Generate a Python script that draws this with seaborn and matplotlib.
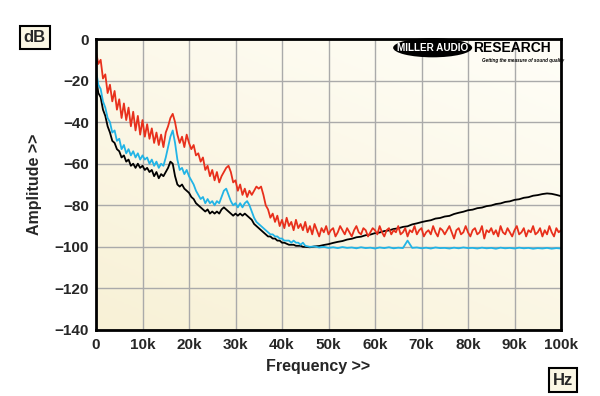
import numpy as np
import pandas as pd
import seaborn as sns
import matplotlib.pyplot as plt
from matplotlib.patches import Ellipse
from matplotlib.colors import LinearSegmentedColormap

# frequency axes in kHz
freq_red = np.arange(0, 100.5, 0.5)
freq = np.concatenate([np.arange(0, 45, 0.5), np.arange(45, 101, 1.0)])

# amplitude readings (dB) for each trace
red_db = [
    -6, -12, -10, -19, -17, -26, -22, -30, -25, -34,
    -29, -38, -31, -39, -33, -42, -35, -44, -37, -46,
    -39, -47, -41, -48, -43, -50, -45, -51, -46, -52,
    -45, -42, -38, -36, -40, -46, -50, -47, -52, -46,
    -50, -53, -51, -56, -55, -59, -57, -63, -61, -66,
    -63, -68, -64, -69, -66, -64, -62, -61, -64, -69,
    -68, -73, -70, -75, -72, -76, -73, -75, -73, -71,
    -72, -71, -75, -80, -82, -86, -84, -88, -85, -90,
    -87, -91, -86, -90, -88, -92, -87, -91, -89, -92,
    # 45k..100k
    -88, -93, -90, -94, -89, -92, -95, -91, -93, -90,
    -94, -92, -91, -95, -93, -90, -92, -94, -91, -93,
    -95, -92, -90, -93, -94, -91, -92, -95, -93, -91,
    -92, -94, -90, -93, -95, -92, -91, -94, -92, -93,
    -90, -94, -93, -91, -95, -92, -93, -90, -94, -92,
    -91, -95, -93, -92, -94, -90, -93, -95, -91, -92,
    -94, -92, -90, -93, -96, -92, -91, -94, -93, -90,
    -93, -95, -92, -91, -94, -93, -90, -96, -92, -93,
    -91, -94, -92, -95, -90, -93, -94, -91, -93, -95,
    -92, -90, -94, -93, -91, -95, -92, -93, -90, -94,
    -93, -91, -95, -92, -94, -90, -93, -95, -91, -93,
    -92,
]

cyan_db = [
    -15, -22, -24, -30, -33, -38, -40, -45, -44, -49,
    -48, -53, -51, -55, -53, -56, -54, -57, -55, -58,
    -56, -58, -57, -60, -58, -61, -59, -62, -60, -61,
    -57, -52, -47, -44, -50, -58, -63, -62, -65, -63,
    -66, -68, -70, -73, -75, -77, -76, -79, -77, -79,
    -78, -80, -78, -79, -76, -73, -72, -75, -78, -80,
    -79, -81, -79, -81, -79, -78, -80, -83, -86, -88,
    -89, -90, -91, -92, -93, -94, -94, -95, -95, -96,
    -96, -97, -97, -97, -98, -97, -98, -98, -99, -98,
    # 45k..100k
    -99.5, -100, -99.8, -100.3, -100, -100.5, -100.2, -100.6, -100.1, -100.5,
    -100.3, -100.7, -100.2, -100.6, -100.4, -100.8, -100.3, -100.6, -100.2, -100.7,
    -100.4, -100.6, -97.0, -100.5, -100.3, -100.7, -100.4, -100.8, -100.3, -100.6,
    -100.5, -100.8, -100.4, -100.7, -100.3, -100.6, -100.5, -100.8, -100.4, -100.7,
    -100.5, -100.9, -100.4, -100.7, -100.5, -100.8, -100.4, -100.7, -100.5, -100.9,
    -100.6, -100.8, -100.5, -100.9, -100.6, -100.8,
]

black_db = [
    -18, -26, -28, -34, -37, -42, -45, -49, -50, -53,
    -54, -57, -56, -59, -58, -61, -60, -62, -60, -62,
    -61, -63, -62, -64, -63, -66, -64, -67, -65, -66,
    -64, -62, -59, -60, -66, -70, -71, -70, -72, -73,
    -74, -76, -77, -79, -80, -81, -82, -83, -82, -84,
    -83, -84, -83, -84, -82, -81, -82, -83, -84, -85,
    -84, -85, -84, -85, -84, -85, -86, -87, -89, -90,
    -91, -92, -93, -94, -95, -95, -96, -96, -97, -97,
    -98, -98, -98.5, -99, -99, -99, -99.5, -99.5, -99.5, -100,
    # 45k..100k
    -100, -100.2, -99.8, -99.6, -99.1, -98.7, -98.1, -97.6, -97.2, -96.5,
    -96.1, -95.4, -95.1, -94.4, -94.1, -93.4, -93.1, -92.4, -92.1, -91.4,
    -91.1, -90.4, -90.1, -89.2, -88.7, -88.1, -87.6, -87.2, -86.4, -86.1,
    -85.4, -85.1, -84.2, -83.6, -83.1, -82.4, -82.1, -81.4, -81.1, -80.4,
    -80.1, -79.4, -79.1, -78.4, -78.1, -77.4, -77.1, -76.4, -76.1, -75.4,
    -75.1, -74.6, -74.3, -74.5, -75.0, -75.6,
]

y_ticks = [0, -20, -40, -60, -80, -100, -120, -140]
x_ticks = [0, 10, 20, 30, 40, 50, 60, 70, 80, 90, 100]
x_labels = ["0", "10k", "20k", "30k", "40k", "50k", "60k", "70k", "80k", "90k", "100k"]

df = pd.concat([
    pd.DataFrame({"freq": freq, "db": black_db, "trace": "black"}),
    pd.DataFrame({"freq": freq, "db": cyan_db, "trace": "cyan"}),
    pd.DataFrame({"freq": freq_red, "db": red_db, "trace": "red"}),
])

sns.set_style("white")
plt.rcParams["font.family"] = ["Liberation Sans", "DejaVu Sans"]
plt.rcParams["font.weight"] = "bold"

fig = plt.figure(figsize=(6, 3.96), dpi=100)
ax = fig.add_axes([0.16, 0.1667, 0.775, 0.7348])

# cream gradient background
cmap = LinearSegmentedColormap.from_list("cream", ["#FFFEF8", "#F8F1D6"])
gx, gy = np.meshgrid(np.linspace(0, 1, 200), np.linspace(0, 1, 200))
ax.imshow(0.6 * gy + 0.4 * (1 - gx), cmap=cmap, extent=[0, 1, 0, 1],
          transform=ax.transAxes, aspect="auto", zorder=0)

sns.lineplot(data=df, x="freq", y="db", hue="trace",
             palette={"black": "#000000", "cyan": "#22B4E6", "red": "#E8301C"},
             hue_order=["black", "cyan", "red"], estimator=None, sort=False,
             legend=False, lw=1.3, ax=ax, zorder=3)

ax.set_xlim(0, 100)
ax.set_ylim(-140, 0)
ax.set_xticks(x_ticks)
ax.set_xticklabels(x_labels)
ax.set_yticks(y_ticks)
ax.grid(True, color="#AAAAAA", lw=1.0, zorder=1)
ax.set_axisbelow(True)
for s in ax.spines.values():
    s.set_linewidth(2)
    s.set_color("black")
    s.set_zorder(5)
ax.tick_params(axis="both", length=4, width=1, color="black", labelsize=11,
               pad=1, direction="out")
ax.tick_params(axis="x", pad=2)
for lab in ax.get_xticklabels() + ax.get_yticklabels():
    lab.set_fontweight("bold")
ax.set_xlabel("")
ax.set_ylabel("")

fig.text(0.53, 0.075, "Frequency >>", ha="center", va="center",
         fontsize=11.5, fontweight="bold")
fig.text(0.058, 0.535, "Amplitude >>", ha="center", va="center",
         rotation=90, fontsize=11.5, fontweight="bold")
box = dict(boxstyle="square,pad=0.25", fc="#FBF7E4", ec="black", lw=1.5)
fig.text(0.058, 0.905, "dB", ha="center", va="center", fontsize=12,
         fontweight="bold", bbox=box)
fig.text(0.938, 0.04, "Hz", ha="center", va="center", fontsize=12,
         fontweight="bold", bbox=box)

# logo
ax.add_patch(Ellipse((0.724, 0.97), 0.17, 0.066, transform=ax.transAxes,
                     fc="black", ec="none", zorder=6, clip_on=False))
ax.text(0.724, 0.969, "MILLER AUDIO", transform=ax.transAxes, ha="center",
        va="center", color="white", fontsize=7.2, fontweight="bold", zorder=7)
ax.text(0.81, 0.968, "RESEARCH", transform=ax.transAxes, ha="left",
        va="center", color="black", fontsize=10, fontweight="bold", zorder=7)
ax.text(0.83, 0.927, "Getting the measure of sound quality",
        transform=ax.transAxes, ha="left", va="center", color="black",
        fontsize=3.3, fontweight="bold", style="italic", zorder=7)

fig.savefig("out.png", dpi=100, facecolor="white")
